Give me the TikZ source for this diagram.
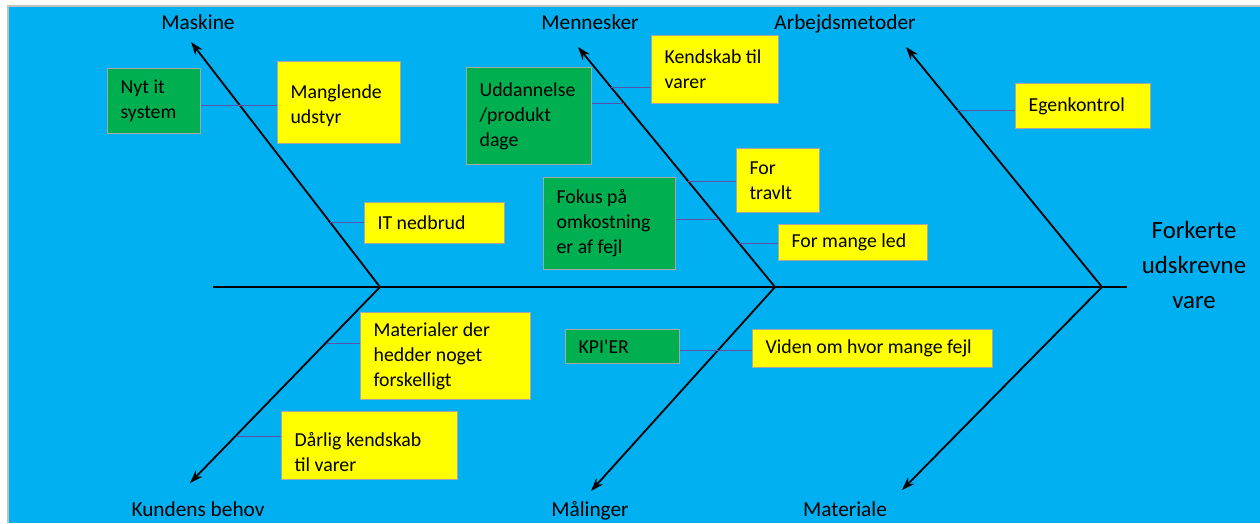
\documentclass[tikz,border=0pt]{standalone}
\usepackage{fontspec}
\setmainfont{Carlito}
\usetikzlibrary{arrows.meta}
\definecolor{bgblue}{RGB}{0,176,240}
\definecolor{boxyellow}{RGB}{255,255,0}
\definecolor{boxgreen}{RGB}{0,176,80}
\definecolor{boxline}{RGB}{166,166,166}
\definecolor{linkc}{RGB}{90,80,170}
\tikzset{>={Stealth[length=13pt,width=9pt]}}

\begin{document}
\begin{tikzpicture}[x=1pt, y=-1pt,
  box/.style={draw=boxline, line width=1.2pt, rectangle, anchor=north west, align=flush left, inner xsep=13pt, inner ysep=2pt, font=\fontsize{19.8}{25}\selectfont},
  ybox/.style={box, fill=boxyellow},
  gbox/.style={box, fill=boxgreen},
  lbl/.style={anchor=base, font=\fontsize{21.3}{25}\selectfont},
  bone/.style={line width=1.8pt},
  link/.style={draw=linkc, line width=1pt}]
\useasboundingbox (0,0) rectangle (1260,523);
\fill[bgblue] (8,6) rectangle (1260,523);
\draw[boxline!70, line width=1.5pt] (8,523) -- (8,6) -- (1260,6);

% spine and bones
\coordinate (s0) at (213,287);
\coordinate (s1) at (1127,287);
\coordinate (j1) at (380,287);
\coordinate (j2) at (775,287);
\coordinate (j3) at (1102,287);
\coordinate (t-maskine) at (191,42);
\coordinate (t-mennesker) at (578,47);
\coordinate (t-arbejd) at (906,47);
\coordinate (t-kunde) at (190,483);
\coordinate (t-maaling) at (591,491);
\coordinate (t-materiale) at (902,490);
\draw[bone] (s0) -- (s1);
\draw[bone, ->] (j1) -- (t-maskine);
\draw[bone, ->] (j2) -- (t-mennesker);
\draw[bone, ->] (j3) -- (t-arbejd);
\draw[bone, ->] (j1) -- (t-kunde);
\draw[bone, ->] (j2) -- (t-maaling);
\draw[bone, ->] (j3) -- (t-materiale);

% category labels
\node[lbl] (maskine) at (198,29) {Maskine};
\node[lbl] (mennesker) at (590,29) {Mennesker};
\node[lbl] (arbejd) at (845,29) {Arbejdsmetoder};
\node[lbl] (kunde) at (198,516) {Kundens behov};
\node[lbl] (maaling) at (590,516) {Målinger};
\node[lbl] (materiale) at (845,516) {Materiale};
\node[font=\fontsize{24.8}{35}\selectfont, align=center] (problem) at (1194,265) {Forkerte\\udskrevne\\vare};

% causes
\node[gbox, text width=67pt, minimum height=65pt] (nytit) at (107,68) {Nyt it\\system};
\node[ybox, text width=97pt, minimum height=82pt, text depth=22pt] (mangl) at (277,61) {Manglende\\udstyr};
\node[ybox, text width=114pt, minimum height=41pt] (itned) at (364,202) {IT nedbrud};
\node[gbox, text width=99pt, minimum height=97pt] (uddan) at (466,67) {Uddannelse\\/produkt\\dage};
\node[ybox, text width=101pt, minimum height=68pt] (kendsk) at (651,35) {Kendskab til\\varer};
\node[ybox, text width=57pt, minimum height=64pt] (travlt) at (736,148) {For\\travlt};
\node[gbox, text width=106pt, minimum height=92pt] (fokus) at (543,177) {Fokus på\\omkostning\\er af fejl};
\node[ybox, text width=123pt, minimum height=36pt] (mangeled) at (778,224) {For mange led};
\node[ybox, text width=109pt, minimum height=45pt] (egenk) at (1015,83) {Egenkontrol};
\node[ybox, text width=144pt, minimum height=87pt] (matdiff) at (360,312) {Materialer der\\hedder noget\\forskelligt};
\node[ybox, text width=150pt, minimum height=68pt, text depth=12pt] (daarlig) at (281,411) {Dårlig kendskab\\til varer};
\node[gbox, text width=88pt, minimum height=34pt] (kpi) at (565,329) {KPI\textquotesingle ER};
\node[ybox, text width=214pt, minimum height=38pt] (viden) at (752,329) {Viden om hvor mange fejl};

% links to bones
\coordinate (c-nyt) at (240,105);
\coordinate (c-itned) at (330,222);
\coordinate (c-uddan) at (624,103);
\coordinate (c-kendsk) at (611,87);
\coordinate (c-travlt) at (688,181);
\coordinate (c-fokus) at (719,219);
\coordinate (c-mangeled) at (739,243);
\coordinate (c-egenk) at (957,110);
\coordinate (c-matdiff) at (327,343);
\coordinate (c-daarlig) at (236,436);
\coordinate (c-kpi) at (718,350);
\draw[link] (nytit.east |- c-nyt) -- (c-nyt -| mangl.west);
\draw[link] (c-itned) -- (c-itned -| itned.west);
\draw[link] (uddan.east |- c-uddan) -- (c-uddan);
\draw[link] (c-kendsk) -- (c-kendsk -| kendsk.west);
\draw[link] (c-travlt) -- (c-travlt -| travlt.west);
\draw[link] (fokus.east |- c-fokus) -- (c-fokus);
\draw[link] (c-mangeled) -- (c-mangeled -| mangeled.west);
\draw[link] (c-egenk) -- (c-egenk -| egenk.west);
\draw[link] (c-matdiff) -- (c-matdiff -| matdiff.west);
\draw[link] (c-daarlig) -- (c-daarlig -| daarlig.west);
\draw[link] (kpi.east |- c-kpi) -- (c-kpi -| viden.west);
\end{tikzpicture}
\end{document}
